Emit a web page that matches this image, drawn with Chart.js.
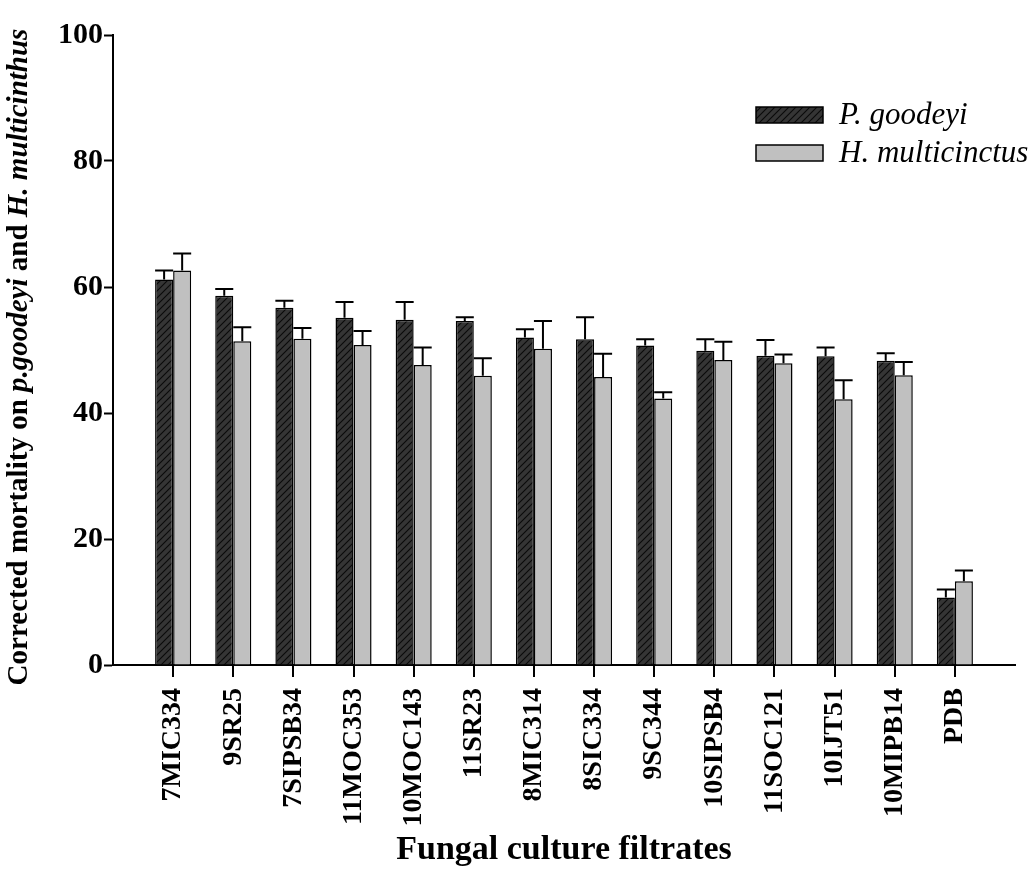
<!DOCTYPE html>
<html>
<head>
<meta charset="utf-8">
<script src="https://cdn.jsdelivr.net/npm/chart.js@4"></script>
<style>
  body { margin: 0; background: #fff; }
  canvas { display: block; }
</style>
</head>
<body>
<canvas id="mortalityChart" width="1035" height="890"></canvas>
<script>
const categories = ['7MIC334', '9SR25', '7SIPSB34', '11MOC353', '10MOC143', '11SR23', '8MIC314',
  '8SIC334', '9SC344', '10SIPSB4', '11SOC121', '10IJT51', '10MIPB14', 'PDB'];
const goodeyi = [61.2, 58.6, 56.7, 55.1, 54.8, 54.6, 52.0, 51.7, 50.7, 49.9, 49.1, 49.0, 48.3, 10.7];
const goodeyiErr = [1.4, 1.1, 1.1, 2.5, 2.8, 0.6, 1.3, 3.5, 1.0, 1.8, 2.5, 1.4, 1.2, 1.3];
const multicinctus = [62.6, 51.4, 51.8, 50.8, 47.6, 45.9, 50.2, 45.7, 42.3, 48.4, 47.9, 42.2, 46.0, 13.3];
const multicinctusErr = [2.7, 2.2, 1.7, 2.2, 2.8, 2.8, 4.4, 3.7, 1.0, 2.9, 1.4, 3.0, 2.1, 1.7];
const yMin = 0, yMax = 100, yStep = 20;

const serif = '"Liberation Serif", "Times New Roman", serif';

// hatched dark fill
function makeHatch() {
  const c = document.createElement('canvas');
  c.width = 7; c.height = 7;
  const g = c.getContext('2d');
  g.fillStyle = '#353535';
  g.fillRect(0, 0, 7, 7);
  g.strokeStyle = '#0a0a0a';
  g.lineWidth = 1.1;
  g.beginPath();
  g.moveTo(-1, 8); g.lineTo(8, -1);
  g.moveTo(-4, 4); g.lineTo(4, -4);
  g.moveTo(3, 11); g.lineTo(11, 3);
  g.stroke();
  return g.createPattern(c, 'repeat');
}
const hatch = makeHatch();
const lightGrey = '#c0c0c0';

// one empty slot on each side so the axis runs past the first and last group
const pad = arr => [null, ...arr, null];
const labels = ['', ...categories, ''];
const errors = [pad(goodeyiErr), pad(multicinctusErr)];

const errorBars = {
  id: 'errorBars',
  afterDatasetsDraw(chart) {
    const ctx = chart.ctx;
    const y = chart.scales.y;
    ctx.save();
    ctx.strokeStyle = '#000';
    ctx.lineWidth = 2;
    chart.data.datasets.forEach((ds, di) => {
      const meta = chart.getDatasetMeta(di);
      meta.data.forEach((bar, i) => {
        const v = ds.data[i];
        if (v == null) return;
        const top = y.getPixelForValue(v + errors[di][i]);
        const half = bar.width / 2;
        ctx.beginPath();
        ctx.moveTo(bar.x, bar.y);
        ctx.lineTo(bar.x, top);
        ctx.moveTo(bar.x - half, top);
        ctx.lineTo(bar.x + half, top);
        ctx.stroke();
      });
    });
    // category tick marks: between the two bars of each group, below the axis
    const m0 = chart.getDatasetMeta(0).data;
    const m1 = chart.getDatasetMeta(1).data;
    const base = y.getPixelForValue(yMin);
    ctx.beginPath();
    for (let i = 1; i < labels.length - 1; i++) {
      const px = Math.round((m0[i].x + m1[i].x) / 2);
      ctx.moveTo(px, base - 1);
      ctx.lineTo(px, base + 12);
    }
    ctx.stroke();
    ctx.restore();
  }
};

const annotations = {
  id: 'annotations',
  afterDraw(chart) {
    const ctx = chart.ctx;
    ctx.save();
    ctx.fillStyle = '#000';
    ctx.textBaseline = 'middle';

    // y title with italic species names
    const parts = [
      ['Corrected mortality on ', false],
      ['p.goodeyi', true],
      [' and ', false],
      ['H. multicinthus', true]
    ];
    const fontFor = it => (it ? 'italic ' : '') + 'bold 29px ' + serif;
    let total = 0;
    parts.forEach(p => { ctx.font = fontFor(p[1]); total += ctx.measureText(p[0]).width; });
    ctx.translate(20, 357);
    ctx.rotate(-Math.PI / 2);
    let x = -total / 2;
    ctx.textAlign = 'left';
    parts.forEach(p => {
      ctx.font = fontFor(p[1]);
      ctx.fillText(p[0], x, 0);
      x += ctx.measureText(p[0]).width;
    });
    ctx.setTransform(1, 0, 0, 1, 0, 0);

    // x title
    ctx.textAlign = 'center';
    ctx.font = 'bold 34px ' + serif;
    ctx.fillText('Fungal culture filtrates', 564, 850);

    // legend
    const items = [['P. goodeyi', hatch, 115], ['H. multicinctus', lightGrey, 153]];
    ctx.textAlign = 'left';
    ctx.font = 'italic 31px ' + serif;
    ctx.lineWidth = 1.5;
    ctx.strokeStyle = '#000';
    items.forEach(([txt, fill, cy]) => {
      ctx.fillStyle = fill;
      ctx.fillRect(756, cy - 8, 67, 16);
      ctx.strokeRect(756, cy - 8, 67, 16);
      ctx.fillStyle = '#000';
      ctx.fillText(txt, 839, cy + 1);
    });
    ctx.restore();
  }
};

new Chart(document.getElementById('mortalityChart'), {
  type: 'bar',
  data: {
    labels: labels,
    datasets: [{
      label: 'P. goodeyi',
      data: pad(goodeyi),
      backgroundColor: hatch,
      borderColor: '#000',
      borderWidth: 1.5,
      categoryPercentage: 0.6,
      barPercentage: 1.0
    }, {
      label: 'H. multicinctus',
      data: pad(multicinctus),
      backgroundColor: lightGrey,
      borderColor: '#000',
      borderWidth: 1.5,
      categoryPercentage: 0.6,
      barPercentage: 1.0
    }]
  },
  options: {
    responsive: false,
    animation: false,
    layout: { padding: { top: 35, right: 20, left: 0, bottom: 0 } },
    plugins: {
      legend: { display: false },
      tooltip: { enabled: false }
    },
    scales: {
      x: {
        offset: false,
        afterFit: s => { s.height = 225; s.paddingLeft = 0; s.paddingRight = 0; },
        border: { color: '#000', width: 2 },
        grid: {
          offset: false,
          drawOnChartArea: false,
          drawTicks: false
        },
        ticks: {
          autoSkip: false,
          minRotation: 90,
          maxRotation: 90,
          padding: 23,
          color: '#000',
          font: { family: serif, size: 28, weight: 'bold' }
        }
      },
      y: {
        min: yMin,
        max: yMax,
        afterFit: s => { s.width = 113; },
        border: { color: '#000', width: 2 },
        grid: {
          drawOnChartArea: false,
          tickLength: 9,
          tickWidth: 2,
          tickColor: '#000'
        },
        ticks: {
          stepSize: yStep,
          padding: 1,
          color: '#000',
          font: { family: serif, size: 30, weight: 'bold' }
        }
      }
    }
  },
  plugins: [errorBars, annotations]
});
</script>
</body>
</html>
